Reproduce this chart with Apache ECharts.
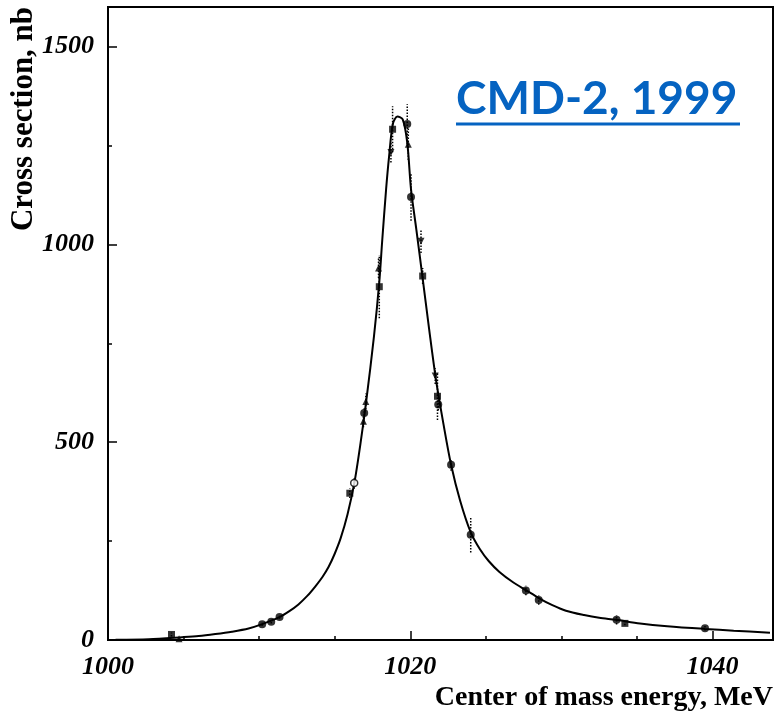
<!DOCTYPE html>
<html>
<head>
<meta charset="utf-8">
<script src="https://cdn.jsdelivr.net/npm/echarts@6/dist/echarts.min.js"></script>
<style>
html,body{margin:0;padding:0;background:#fff;}
#chart{width:777px;height:714px;}
</style>
</head>
<body>
<div id="chart"></div>
<script>
// ---- data ----
var xTickLabels = [1000, 1020, 1040];
var yTickLabels = [0, 500, 1000, 1500];

// fitted curve
var curveE = [1000.5, 1002.7, 1004.9, 1006.0, 1007.1, 1008.2, 1009.3, 1010.2, 1011.3, 1012.0, 1012.6, 1013.2, 1013.75, 1014.2, 1014.6, 1015.0, 1015.4, 1015.85, 1016.3, 1016.7, 1017.1, 1017.6, 1017.95, 1018.15, 1018.4, 1018.6, 1018.85, 1019.15, 1019.5, 1019.8, 1020.05, 1020.4, 1020.8, 1021.25, 1021.7, 1022.2, 1022.7, 1023.3, 1024.0, 1024.6, 1025.2, 1025.9, 1026.8, 1027.7, 1028.5, 1029.4, 1030.3, 1031.5, 1032.5, 1033.6, 1035.2, 1037.0, 1039.5, 1041.4, 1043.8];
var curveSigma = [0.5, 2, 7, 10, 15, 21, 29, 40, 57, 73, 90, 112, 137, 160, 185, 218, 258, 318, 397, 495, 608, 768, 905, 1013, 1139, 1223, 1305, 1323, 1316, 1257, 1139, 1038, 920, 785, 658, 545, 443, 352, 272, 230, 199, 172, 146, 125, 106, 88, 74, 63, 56, 51, 42, 35, 28, 23.5, 18.5];

// measured points, grouped by marker
var circleE     = [1010.2, 1010.8, 1011.35, 1016.95, 1019.8, 1020.05, 1021.85, 1022.7, 1024.0, 1027.65, 1028.5, 1033.65, 1039.5];
var circleSigma = [40, 46, 58, 574, 1304, 1120, 595, 443, 266, 125, 101, 51, 30];
var circleErr   = [4, 4, 4, 15, 50, 60, 15, 15, 45, 12, 12, 12, 6];

var squareE     = [1004.2, 1016.0, 1017.95, 1018.83, 1020.82, 1021.8, 1034.2];
var squareSigma = [14, 371, 893, 1291, 920, 616, 42];
var squareErr   = [5, 12, 80, 58, 20, 60, 5];

var triUpE     = [1004.7, 1016.9, 1017.06, 1017.9, 1019.87];
var triUpSigma = [3, 553, 603, 940, 1253];
var triUpErr   = [3, 15, 20, 25, 40];

var triDownE     = [1018.72, 1020.71, 1021.65];
var triDownSigma = [1232, 1008, 667];
var triDownErr   = [25, 30, 20];

var openE     = [1016.29];
var openSigma = [397];
var openErr   = [15];

// ---- build ----
function pairs(a, b) { return a.map(function (v, i) { return [v, b[i]]; }); }
function bars(a, b, e) { return a.map(function (v, i) { return [v, b[i] - e[i], b[i] + e[i]]; }); }

var allBars = [].concat(
  bars(circleE, circleSigma, circleErr),
  bars(squareE, squareSigma, squareErr),
  bars(triUpE, triUpSigma, triUpErr),
  bars(triDownE, triDownSigma, triDownErr),
  bars(openE, openSigma, openErr)
);

var labelFont = { fontFamily: 'Liberation Serif', fontWeight: 'bold', fontStyle: 'italic', fontSize: 26, color: '#000' };

var chart = echarts.init(document.getElementById('chart'), null, { renderer: 'canvas' });
chart.setOption({
  animation: false,
  backgroundColor: '#fff',
  grid: { left: 108, right: 4, top: 7, bottom: 74, show: true, borderColor: '#000', borderWidth: 2 },
  xAxis: {
    type: 'value', min: 1000, max: 1044, interval: 20,
    axisLine: { show: true, lineStyle: { color: '#000', width: 2 } },
    axisTick: { show: true, inside: true, length: 9, lineStyle: { color: '#000', width: 1.5 } },
    minorTick: { show: true, splitNumber: 4, length: 4, lineStyle: { color: '#000', width: 1.5 } },
    splitLine: { show: false },
    axisLabel: Object.assign({ margin: 14, formatter: function (v) { return xTickLabels.indexOf(v) >= 0 ? String(v) : ''; } }, labelFont)
  },
  yAxis: {
    type: 'value', min: 0, max: 1600, interval: 500,
    axisLine: { show: true, lineStyle: { color: '#000', width: 2 } },
    axisTick: { show: true, inside: true, length: 9, lineStyle: { color: '#000', width: 1.5 } },
    minorTick: { show: true, splitNumber: 2, length: 4, lineStyle: { color: '#000', width: 1.5 } },
    splitLine: { show: false },
    axisLabel: Object.assign({ margin: 14, formatter: function (v) { return yTickLabels.indexOf(v) >= 0 ? String(v) : ''; } }, labelFont)
  },
  series: [
    {
      type: 'line', data: pairs(curveE, curveSigma), smooth: 0.3,
      showSymbol: false, symbol: 'none', lineStyle: { color: '#000', width: 2 }, z: 2
    },
    {
      type: 'custom', data: allBars, encode: { x: 0, y: [1, 2] }, z: 3,
      renderItem: function (params, api) {
        var p1 = api.coord([api.value(0), api.value(1)]);
        var p2 = api.coord([api.value(0), api.value(2)]);
        return { type: 'line', shape: { x1: p1[0], y1: p1[1], x2: p2[0], y2: p2[1] },
                 style: { stroke: '#000', lineWidth: 1.5, lineDash: [1.5, 1.5] } };
      }
    },
    { type: 'scatter', data: pairs(circleE, circleSigma), symbol: 'circle', symbolSize: 8, itemStyle: { color: '#000' }, z: 4 },
    { type: 'scatter', data: pairs(squareE, squareSigma), symbol: 'rect', symbolSize: 7, itemStyle: { color: '#000' }, z: 4 },
    { type: 'scatter', data: pairs(triUpE, triUpSigma), symbol: 'triangle', symbolSize: 7, itemStyle: { color: '#000' }, z: 4 },
    { type: 'scatter', data: pairs(triDownE, triDownSigma), symbol: 'triangle', symbolRotate: 180, symbolSize: 7, itemStyle: { color: '#000' }, z: 4 },
    { type: 'scatter', data: pairs(openE, openSigma), symbol: 'circle', symbolSize: 7, itemStyle: { color: '#fff', borderColor: '#000', borderWidth: 1.5 }, z: 4 }
  ],
  graphic: [
    { type: 'text', x: 773, y: 698, style: { text: 'Center of mass energy, MeV', align: 'right', verticalAlign: 'middle',
        font: 'bold 28px "Liberation Serif"', fill: '#000' } },
    { type: 'text', x: 24, y: 119, rotation: Math.PI / 2, style: { text: 'Cross section, nb', align: 'center', verticalAlign: 'middle',
        font: 'bold 31px "Liberation Serif"', fill: '#000' } },
    { type: 'text', x: 456, y: 99, style: { text: 'CMD-2, 1999', align: 'left', verticalAlign: 'middle',
        font: 'bold 46px Lato', fill: '#0563C1' } },
    { type: 'line', shape: { x1: 456, y1: 124, x2: 740, y2: 124 }, style: { stroke: '#0563C1', lineWidth: 3 } }
  ]
});
</script>
</body>
</html>
